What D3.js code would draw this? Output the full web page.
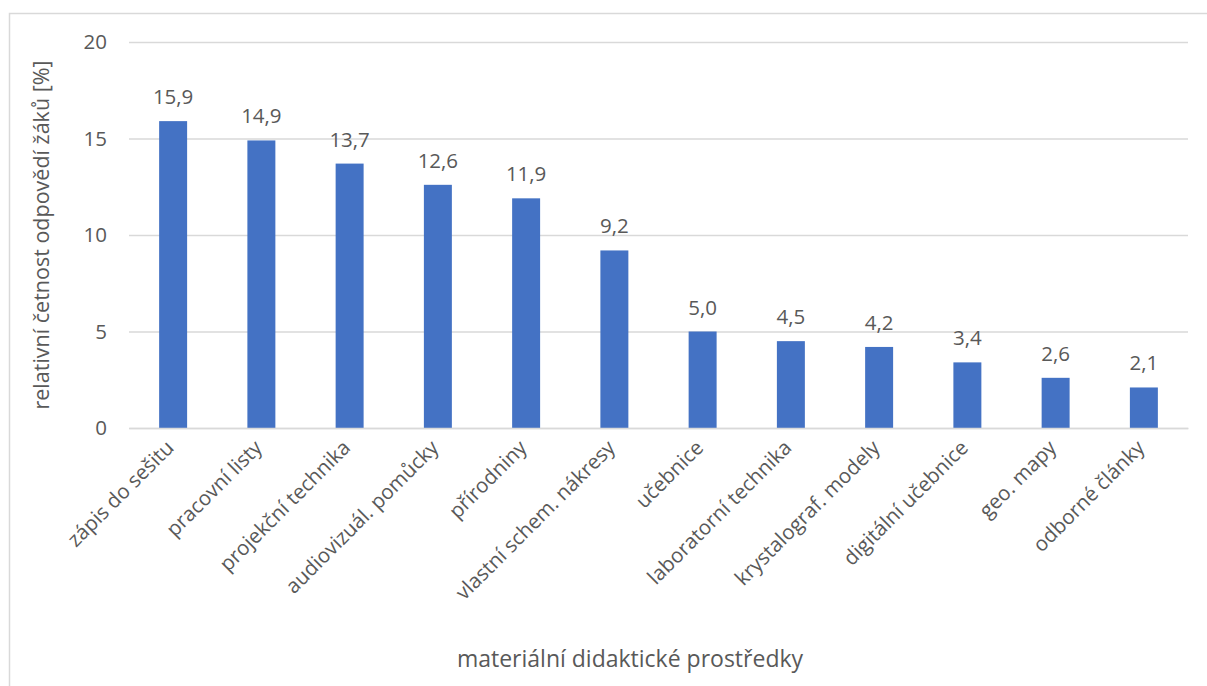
<!DOCTYPE html>
<html><head><meta charset="utf-8">
<script src="https://cdn.jsdelivr.net/npm/d3@7/dist/d3.min.js"></script>
<style>
body{margin:0;background:#fff;}
svg text{font-family:"Open Sans","Noto Sans",sans-serif;fill:#595959;}
</style></head>
<body><svg id="c" width="1207" height="686"></svg>
<script>
const categories = ["zápis do sešitu","pracovní listy","projekční technika","audiovizuál. pomůcky","přírodniny","vlastní schem. nákresy","učebnice","laboratorní technika","krystalograf. modely","digitální učebnice","geo. mapy","odborné články"];
const values = [15.9,14.9,13.7,12.6,11.9,9.2,5.0,4.5,4.2,3.4,2.6,2.1];
const yTicks = [0,5,10,15,20];
const yTitle = "relativní četnost odpovědí žáků [%]";
const xTitle = "materiální didaktické prostředky";

const svg = d3.select("#c");
svg.append("rect").attr("x",9.5).attr("y",13.5).attr("width",1300).attr("height",800)
  .attr("fill","#fff").attr("stroke","#d9d9d9").attr("stroke-width",1.5);

const pL=129, pR=1188, pT=42, pB=428;
const x = d3.scaleBand().domain(categories).range([pL,pR]).paddingInner(0.683).paddingOuter(0.3415);
const y = d3.scaleLinear().domain([0,20]).range([pB,pT]);

const gy = svg.append("g").attr("transform",`translate(${pL},0)`)
  .call(d3.axisLeft(y).tickValues(yTicks).tickSize(-(pR-pL)).tickPadding(22));
gy.select(".domain").remove();
gy.selectAll(".tick line").attr("stroke","#d9d9d9").attr("stroke-width",1.5);
gy.selectAll(".tick text").style("font-size","20.5px").attr("fill","#595959");

svg.selectAll("rect.bar").data(values).join("rect").attr("class","bar")
  .attr("x",(d,i)=>x(categories[i])).attr("width",x.bandwidth())
  .attr("y",d=>y(d)).attr("height",d=>y(0)-y(d)).attr("fill","#4472c4");

svg.selectAll("text.lbl").data(values).join("text").attr("class","lbl")
  .attr("x",(d,i)=>x(categories[i])+x.bandwidth()/2).attr("y",d=>y(d)-17)
  .attr("text-anchor","middle").style("font-size","20.5px")
  .text(d=>d.toFixed(1).replace(".",","));

const gx = svg.append("g").attr("transform",`translate(0,${pB})`)
  .call(d3.axisBottom(x).tickSize(0).tickPadding(0));
gx.select(".domain").attr("stroke","#d9d9d9").attr("stroke-width",1.5);
gx.selectAll(".tick text").style("font-size","20.5px").attr("fill","#595959")
  .attr("text-anchor","end").attr("dy",null).attr("y",0)
  .attr("transform","translate(2,21) rotate(-45)");

svg.append("text").attr("transform",`translate(49,${(pT+pB)/2}) rotate(-90)`)
  .attr("text-anchor","middle").style("font-size","21.5px").text(yTitle);
svg.append("text").attr("x",630).attr("y",667).attr("text-anchor","middle")
  .style("font-size","23px").text(xTitle);
</script></body></html>
